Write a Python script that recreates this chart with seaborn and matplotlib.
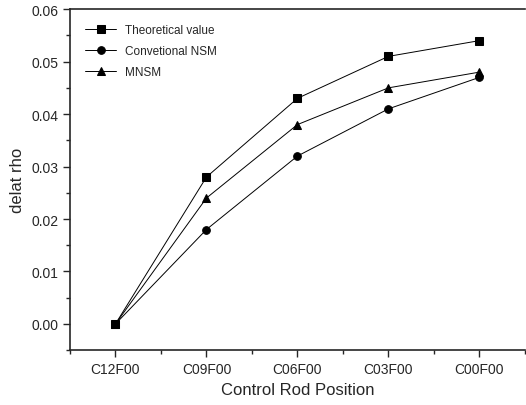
import pandas as pd
import matplotlib.pyplot as plt
import seaborn as sns
from matplotlib.ticker import MultipleLocator

# Data
positions = ["C12F00", "C09F00", "C06F00", "C03F00", "C00F00"]
theoretical = [0.0, 0.028, 0.043, 0.051, 0.054]
conventional_nsm = [0.0, 0.018, 0.032, 0.041, 0.047]
mnsm = [0.0, 0.024, 0.038, 0.045, 0.048]
series_names = ["Theoretical value", "Convetional NSM", "MNSM"]

df = pd.DataFrame({
    "pos": list(range(len(positions))) * 3,
    "value": theoretical + conventional_nsm + mnsm,
    "series": [n for n in series_names for _ in positions],
})

sns.set_style("ticks")
plt.rcParams["font.family"] = ["Liberation Sans", "DejaVu Sans"]

fig = plt.figure(figsize=(5.26, 4.06), dpi=100)
ax = fig.add_axes([0.133, 0.135, 0.865, 0.84])

sns.lineplot(data=df, x="pos", y="value", style="series", hue="series",
             palette=["black"] * 3, markers=["s", "o", "^"], dashes=False,
             markersize=5.5, linewidth=0.7, markeredgecolor="black", ax=ax)

ax.set_xlim(-0.5, 4.5)
ax.set_ylim(-0.005, 0.06)
ax.set_xticks(range(len(positions)))
ax.set_xticklabels(positions)
ax.xaxis.set_minor_locator(MultipleLocator(0.5))
ax.yaxis.set_major_locator(MultipleLocator(0.01))
ax.yaxis.set_minor_locator(MultipleLocator(0.005))
ax.yaxis.set_major_formatter(plt.FormatStrFormatter("%.2f"))
ax.tick_params(which="major", direction="out", length=5, width=1, labelsize=10)
ax.tick_params(which="minor", direction="out", length=3, width=1)
for s in ax.spines.values():
    s.set_linewidth(1.2)
ax.spines["right"].set_visible(False)

ax.set_xlabel("Control Rod Position", fontsize=12)
ax.set_ylabel("delat rho", fontsize=12)

leg = ax.legend(loc="upper left", frameon=False, fontsize=8.5,
                handlelength=2.6, borderaxespad=0.9, labelspacing=0.75)

fig.savefig("out.png", dpi=100)
